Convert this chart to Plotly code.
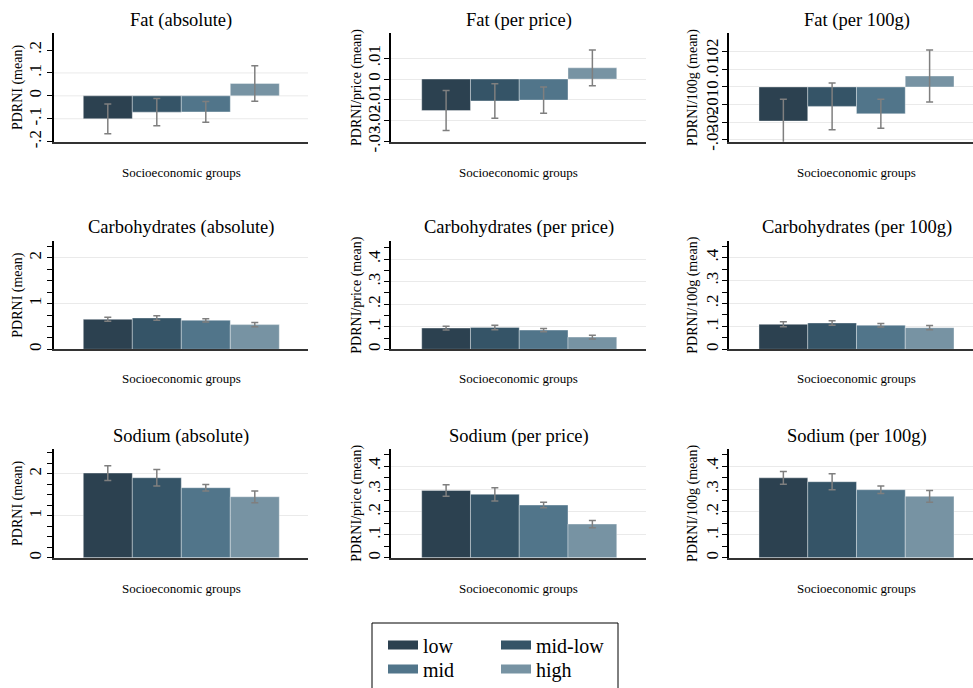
import plotly.graph_objects as go

groups = ["low", "mid-low", "mid", "high"]
colors = ["#2c4150", "#355467", "#51758a", "#7793a3"]

titles = [
    ["Fat (absolute)", "Fat (per price)", "Fat (per 100g)"],
    ["Carbohydrates (absolute)", "Carbohydrates (per price)", "Carbohydrates (per 100g)"],
    ["Sodium (absolute)", "Sodium (per price)", "Sodium (per 100g)"],
]
ytitles = ["PDRNI (mean)", "PDRNI/price (mean)", "PDRNI/100g (mean)"]
xtitle = "Socioeconomic groups"

# means and CI half-widths per panel (row, col), ordered low, mid-low, mid, high
fat_abs = [-0.100, -0.071, -0.070, 0.054]
fat_abs_err = [0.065, 0.059, 0.045, 0.077]
fat_price = [-0.0151, -0.0105, -0.0101, 0.0054]
fat_price_err = [0.0096, 0.0083, 0.0063, 0.0086]
fat_100g = [-0.0193, -0.0110, -0.0152, 0.0062]
fat_100g_err = [0.0123, 0.0132, 0.0082, 0.0147]

carb_abs = [0.656, 0.685, 0.635, 0.540]
carb_abs_err = [0.044, 0.047, 0.036, 0.047]
carb_price = [0.094, 0.097, 0.085, 0.054]
carb_price_err = [0.008, 0.010, 0.007, 0.008]
carb_100g = [0.109, 0.115, 0.105, 0.0945]
carb_100g_err = [0.011, 0.010, 0.008, 0.009]

sod_abs = [2.016, 1.905, 1.667, 1.452]
sod_abs_err = [0.175, 0.195, 0.080, 0.140]
sod_price = [0.294, 0.277, 0.230, 0.147]
sod_price_err = [0.025, 0.029, 0.012, 0.016]
sod_100g = [0.349, 0.332, 0.297, 0.268]
sod_100g_err = [0.028, 0.035, 0.016, 0.026]

values = [
    [(fat_abs, fat_abs_err), (fat_price, fat_price_err), (fat_100g, fat_100g_err)],
    [(carb_abs, carb_abs_err), (carb_price, carb_price_err), (carb_100g, carb_100g_err)],
    [(sod_abs, sod_abs_err), (sod_price, sod_price_err), (sod_100g, sod_100g_err)],
]

# y tick values / labels per panel
ytickvals = [
    [[-0.2, -0.1, 0, 0.1, 0.2], [-0.03, -0.02, -0.01, 0, 0.01], [-0.03, -0.02, -0.01, 0, 0.01, 0.02]],
    [[0, 1, 2], [0, 0.1, 0.2, 0.3, 0.4], [0, 0.1, 0.2, 0.3, 0.4]],
    [[0, 1, 2], [0, 0.1, 0.2, 0.3, 0.4], [0, 0.1, 0.2, 0.3, 0.4]],
]
yticktext = [
    [["-.2", "-.1", "0", ".1", ".2"], ["-.03", "-.02", "-.01", "0", ".01"], ["-.03", "-.02", "-.01", "0", ".01", ".02"]],
    [["0", "1", "2"], ["0", ".1", ".2", ".3", ".4"], ["0", ".1", ".2", ".3", ".4"]],
    [["0", "1", "2"], ["0", ".1", ".2", ".3", ".4"], ["0", ".1", ".2", ".3", ".4"]],
]
# Fat (absolute) panel has gridlines only at these values in the original
fat_abs_grid = [-0.1, 0, 0.1]

yranges = [
    [[-0.2, 0.273], [-0.0301, 0.022], [-0.031, 0.0304]],
    [[0, 2.37], [0, 0.48], [0, 0.473]],
    [[0, 2.59], [0, 0.475], [0, 0.475]],
]
minor_dtick = [[None, None, None], [0.25, 0.05, 0.05], [0.25, 0.05, 0.05]]

W, H = 973, 688
col_px = [(54, 308), (391, 646), (729, 973)]
col_center = [181, 518.5, 856.5]
row_px = [(33.3, 141.7), (241, 349.3), (449, 557.7)]
title_y = [20, 228, 436]
xtitle_y = [172, 378, 588]
xranges = [[-1.098, 4.086], [-1.13, 4.10], [-1.115, 3.89]]
label_standoff = [-1, -3, -3]
title_standoff = [1, 1, 3]

FONT = "Liberation Serif"
GRID = "#eaeaea"

fig = go.Figure()
layout = dict()
annotations = []
shapes = []

for r in range(3):
    for c in range(3):
        idx = r * 3 + c + 1
        xa = "x" if idx == 1 else f"x{idx}"
        ya = "y" if idx == 1 else f"y{idx}"
        xkey = "xaxis" if idx == 1 else f"xaxis{idx}"
        ykey = "yaxis" if idx == 1 else f"yaxis{idx}"
        means, errs = values[r][c]
        for g, col, m, e in zip(groups, colors, means, errs):
            fig.add_trace(go.Bar(
                x=[g], y=[m], width=1, name=g, showlegend=False,
                marker=dict(color=col, line=dict(color="rgba(255,255,255,0.45)", width=0.8)),
                error_y=dict(type="data", array=[e], color="#7f7f7f", thickness=1.5, width=3.5),
                xaxis=xa, yaxis=ya, hoverinfo="skip",
            ))
        x0, x1 = col_px[c]
        y0, y1 = row_px[r]
        layout[xkey] = dict(
            domain=[x0 / W, x1 / W], anchor=ya, type="category",
            categoryorder="array", categoryarray=groups,
            range=xranges[c], showticklabels=False, ticks="",
            showline=True, linecolor="#333333", linewidth=1.5,
            showgrid=False, zeroline=False, fixedrange=True,
        )
        custom_grid = (r == 0 and c == 0)
        ydict = dict(
            domain=[1 - y1 / H, 1 - y0 / H], anchor=xa, range=yranges[r][c],
            tickmode="array", tickvals=ytickvals[r][c], ticktext=yticktext[r][c],
            tickangle=-90, ticks="outside", ticklen=5, tickwidth=1, tickcolor="#000000",
            tickfont=dict(family=FONT, size=17, color="#000000"),
            ticklabelstandoff=label_standoff[c],
            showline=True, linecolor="#000000", linewidth=1.5,
            showgrid=not custom_grid, gridcolor=GRID, gridwidth=1,
            zeroline=False, fixedrange=True,
            title=dict(text=ytitles[c], font=dict(family=FONT, size=14, color="#000000"),
                       standoff=title_standoff[c]),
        )
        if custom_grid:
            for gv in fat_abs_grid:
                shapes.append(dict(type="line", xref=f"{xa} domain", yref=ya,
                                   x0=0, x1=1, y0=gv, y1=gv, layer="below",
                                   line=dict(color=GRID, width=1)))
        if minor_dtick[r][c]:
            ydict["minor"] = dict(dtick=minor_dtick[r][c], tick0=0, ticks="outside",
                                  ticklen=5, tickwidth=1, tickcolor="#000000", showgrid=False)
        layout[ykey] = ydict
        annotations.append(dict(
            text=titles[r][c], x=col_center[c] / W, y=1 - title_y[r] / H,
            xref="paper", yref="paper", xanchor="center", yanchor="middle",
            showarrow=False, font=dict(family=FONT, size=18.5, color="#000000"),
        ))
        annotations.append(dict(
            text=xtitle, x=col_center[c] / W, y=1 - xtitle_y[r] / H,
            xref="paper", yref="paper", xanchor="center", yanchor="middle",
            showarrow=False, font=dict(family=FONT, size=13, color="#000000"),
        ))

# legend entries (two rows of two)
legend_rows = [["low", "mid-low"], ["mid", "high"]]
for li, row in enumerate(legend_rows):
    for g in row:
        col = colors[groups.index(g)]
        fig.add_trace(go.Scatter(
            x=[None], y=[None], mode="lines", name=g,
            line=dict(color=col, width=9),
            legend="legend" if li == 0 else "legend2",
            xaxis="x", yaxis="y", hoverinfo="skip",
        ))

leg_common = dict(
    orientation="h", xanchor="left", yanchor="middle",
    font=dict(family=FONT, size=20, color="#000000"),
    bgcolor="rgba(0,0,0,0)", borderwidth=0,
    entrywidth=68, entrywidthmode="pixels", itemclick=False, itemdoubleclick=False,
)
layout["legend"] = dict(leg_common, x=383 / W, y=1 - 645 / H)
layout["legend2"] = dict(leg_common, x=383 / W, y=1 - 669 / H)

shapes.append(dict(type="rect", xref="paper", yref="paper",
                   x0=372 / W, x1=618 / W, y0=1 - 692 / H, y1=1 - 623 / H,
                   line=dict(color="#000000", width=1), fillcolor="rgba(0,0,0,0)"))

fig.update_layout(
    **layout,
    annotations=annotations,
    shapes=shapes,
    barmode="overlay",
    width=W, height=H,
    margin=dict(l=0, r=0, t=0, b=0, autoexpand=False),
    paper_bgcolor="#ffffff", plot_bgcolor="#ffffff",
    font=dict(family=FONT, color="#000000"),
)

fig.write_html("out.html")
